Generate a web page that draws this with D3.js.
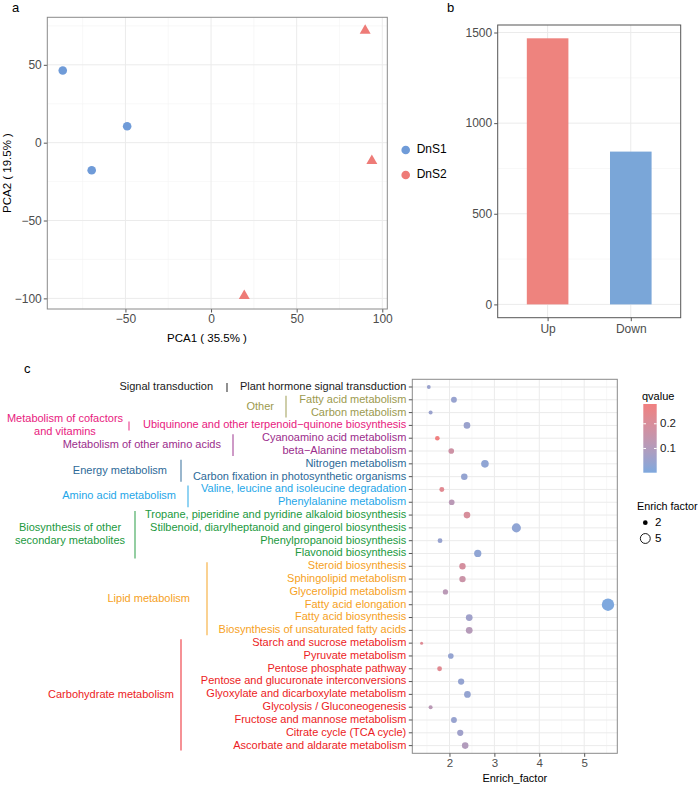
<!DOCTYPE html>
<html>
<head>
<meta charset="utf-8">
<script src="https://cdn.jsdelivr.net/npm/d3@7"></script>
<style>
  body { margin: 0; background: #fff; }
  svg text { font-family: "Liberation Sans", Arial, sans-serif; }
</style>
</head>
<body>
<script>
// ---- panel a: PCA ----
const pcaGroups = ["DnS1", "DnS2"];
const pcaSample = ["DnS1", "DnS1", "DnS1", "DnS2", "DnS2", "DnS2"];
const pca1 = [-86.6, -49.0, -69.7, 90.0, 93.9, 19.4];
const pca2 = [46.4, 10.5, -17.7, 72.0, -11.7, -98.3];
const pcaXTicks = [-50, 0, 50, 100];
const pcaYTicks = [-100, -50, 0, 50];

// ---- panel b: DEG counts ----
const degCategories = ["Up", "Down"];
const degCounts = [1468, 843];
const degTicks = [0, 500, 1000, 1500];

// ---- panel c: KEGG enrichment ----
const pathways = [
  "Plant hormone signal transduction",
  "Fatty acid metabolism",
  "Carbon metabolism",
  "Ubiquinone and other terpenoid\u2212quinone biosynthesis",
  "Cyanoamino acid metabolism",
  "beta\u2212Alanine metabolism",
  "Nitrogen metabolism",
  "Carbon fixation in photosynthetic organisms",
  "Valine, leucine and isoleucine degradation",
  "Phenylalanine metabolism",
  "Tropane, piperidine and pyridine alkaloid biosynthesis",
  "Stilbenoid, diarylheptanoid and gingerol biosynthesis",
  "Phenylpropanoid biosynthesis",
  "Flavonoid biosynthesis",
  "Steroid biosynthesis",
  "Sphingolipid metabolism",
  "Glycerolipid metabolism",
  "Fatty acid elongation",
  "Fatty acid biosynthesis",
  "Biosynthesis of unsaturated fatty acids",
  "Starch and sucrose metabolism",
  "Pyruvate metabolism",
  "Pentose phosphate pathway",
  "Pentose and glucuronate interconversions",
  "Glyoxylate and dicarboxylate metabolism",
  "Glycolysis / Gluconeogenesis",
  "Fructose and mannose metabolism",
  "Citrate cycle (TCA cycle)",
  "Ascorbate and aldarate metabolism"
];
const enrichFactor = [1.54, 2.10, 1.58, 2.39, 1.73, 2.04, 2.79, 2.33, 1.83, 2.05,
                      2.39, 3.49, 1.79, 2.63, 2.29, 2.29, 1.91, 5.53, 2.44, 2.44,
                      1.38, 2.03, 1.78, 2.26, 2.40, 1.58, 2.10, 2.24, 2.35];
const qvalue = [0.05, 0.045, 0.05, 0.05, 0.28, 0.17, 0.03, 0.04, 0.23, 0.12,
                0.20, 0.03, 0.045, 0.03, 0.19, 0.16, 0.12, 0.002, 0.06, 0.11,
                0.22, 0.04, 0.23, 0.04, 0.04, 0.12, 0.045, 0.06, 0.10];
const groupNames = [
  ["Signal transduction"],
  ["Other"],
  ["Metabolism of cofactors", "and vitamins"],
  ["Metabolism of other amino acids"],
  ["Energy metabolism"],
  ["Amino acid metabolism"],
  ["Biosynthesis of other", "secondary metabolites"],
  ["Lipid metabolism"],
  ["Carbohydrate metabolism"]
];
const groupSizes = [1, 2, 1, 2, 2, 2, 4, 6, 9];
const enrichTicks = [2, 3, 4, 5];
const qTicks = [0.1, 0.2];
const sizeLegendValues = [2, 5];

// styles / layout (kept apart from the data)
const groupColors = ["#1a1a1a", "#9c9a4e", "#e8207e", "#9b2d8c", "#2d6a98",
                     "#1ea6e8", "#21993e", "#f6a11d", "#ec1c24"];
const groupBarX = [227, 286, 129, 233, 181, 188, 135, 207, 181];
const groupTextX = [213, 274, 65, 221, 167, 176, 70, 190, 174];
const groupTextAnchor = ["end", "end", "middle", "end", "end", "end", "middle", "end", "end"];
const pcaColors = ["#6f9bd8", "#ee7b77"];
const barColors = ["#ee837e", "#7aa6d8"];

const W = 700, H = 786;
const svg = d3.select("body").append("svg").attr("width", W).attr("height", H);

const majorGrid = "#ebebeb", minorGrid = "#f4f4f4", tickCol = "#4d4d4d";

function expand(ext, f) {
  const d = (ext[1] - ext[0]) * (f || 0.05);
  return [ext[0] - d, ext[1] + d];
}
function minors(scale, major) {
  const step = major[1] - major[0];
  const dom = scale.domain();
  return d3.range(major[0] - step * 3, major[major.length - 1] + step * 3, step)
    .map(v => v + step / 2)
    .filter(v => v > Math.min(...dom) && v < Math.max(...dom));
}
function panelLabel(txt, x, y) {
  svg.append("text").attr("x", x).attr("y", y).attr("font-size", 13)
    .attr("dominant-baseline", "middle").text(txt);
}
function styleAxis(a, size) {
  a.select(".domain").remove();
  a.selectAll("line").attr("stroke", "#555");
  a.selectAll("text").attr("font-size", size).attr("fill", tickCol).attr("font-family", null);
}

// ================= panel a =================
{
  const g = svg.append("g");
  const x = d3.scaleLinear().domain(expand(d3.extent(pca1))).range([47.3, 387.3]);
  const y = d3.scaleLinear().domain(expand(d3.extent(pca2))).range([309, 17.3]);
  const [x0, x1] = x.range(), [y1, y0] = y.range();

  g.selectAll(".mnx").data(minors(x, pcaXTicks)).join("line")
    .attr("x1", d => x(d)).attr("x2", d => x(d)).attr("y1", y0).attr("y2", y1)
    .attr("stroke", minorGrid).attr("stroke-width", 0.6);
  g.selectAll(".mny").data(minors(y, pcaYTicks)).join("line")
    .attr("y1", d => y(d)).attr("y2", d => y(d)).attr("x1", x0).attr("x2", x1)
    .attr("stroke", minorGrid).attr("stroke-width", 0.6);
  g.selectAll(".mjx").data(pcaXTicks).join("line")
    .attr("x1", d => x(d)).attr("x2", d => x(d)).attr("y1", y0).attr("y2", y1)
    .attr("stroke", majorGrid).attr("stroke-width", 1);
  g.selectAll(".mjy").data(pcaYTicks).join("line")
    .attr("y1", d => y(d)).attr("y2", d => y(d)).attr("x1", x0).attr("x2", x1)
    .attr("stroke", majorGrid).attr("stroke-width", 1);

  styleAxis(g.append("g").attr("transform", `translate(0,${y1})`)
    .call(d3.axisBottom(x).tickValues(pcaXTicks).tickSize(3.5).tickPadding(2)), 12);
  styleAxis(g.append("g").attr("transform", `translate(${x0},0)`)
    .call(d3.axisLeft(y).tickValues(pcaYTicks).tickSize(3.5).tickPadding(2)), 12);

  g.append("rect").attr("x", x0).attr("y", y0).attr("width", x1 - x0).attr("height", y1 - y0)
    .attr("fill", "none").attr("stroke", "#8a8a8a").attr("stroke-width", 1);

  const pts = pca1.map((v, i) => ({ x: v, y: pca2[i], s: pcaSample[i] }));
  g.selectAll(".pt").data(pts).join("path")
    .attr("transform", d => `translate(${x(d.x)},${y(d.y)})`)
    .attr("d", d => d3.symbol(d.s === pcaGroups[0] ? d3.symbolCircle : d3.symbolTriangle,
                              d.s === pcaGroups[0] ? 58 : 52)())
    .attr("fill", d => pcaColors[pcaGroups.indexOf(d.s)]);

  g.append("text").attr("x", 207).attr("y", 339).attr("text-anchor", "middle")
    .attr("dominant-baseline", "middle").attr("font-size", 11.5).text("PCA1 ( 35.5% )");
  g.append("text").attr("transform", "translate(8,173) rotate(-90)").attr("text-anchor", "middle")
    .attr("dominant-baseline", "middle").attr("font-size", 11.5).text("PCA2 ( 19.5% )");

  const lg = g.selectAll(".lg").data(pcaGroups).join("g")
    .attr("transform", (d, i) => `translate(405.7,${150 + i * 25})`);
  lg.append("circle").attr("r", 4.3).attr("fill", (d, i) => pcaColors[i]);
  lg.append("text").attr("x", 11).attr("dominant-baseline", "middle")
    .attr("font-size", 12).text(d => d);

  panelLabel("a", 12, 9);
}

// ================= panel b =================
{
  const g = svg.append("g");
  const x = d3.scalePoint().domain(degCategories).range([497.7, 680.7]).padding(0.6);
  const y = d3.scaleLinear().domain(expand([0, d3.max(degCounts)])).range([317.7, 25]);
  const [x0, x1] = x.range(), [y1, y0] = y.range();

  g.selectAll(".mny").data(minors(y, degTicks)).join("line")
    .attr("y1", d => y(d)).attr("y2", d => y(d)).attr("x1", x0).attr("x2", x1)
    .attr("stroke", minorGrid).attr("stroke-width", 0.6);
  g.selectAll(".mjy").data(degTicks).join("line")
    .attr("y1", d => y(d)).attr("y2", d => y(d)).attr("x1", x0).attr("x2", x1)
    .attr("stroke", majorGrid).attr("stroke-width", 1);
  g.selectAll(".mjx").data(degCategories).join("line")
    .attr("x1", d => x(d)).attr("x2", d => x(d)).attr("y1", y0).attr("y2", y1)
    .attr("stroke", majorGrid).attr("stroke-width", 1);

  const bw = x.step() * 0.5;
  g.selectAll(".bar").data(degCategories).join("rect")
    .attr("x", d => x(d) - bw / 2).attr("width", bw)
    .attr("y", (d, i) => y(degCounts[i])).attr("height", (d, i) => y(0) - y(degCounts[i]))
    .attr("fill", (d, i) => barColors[i]);

  styleAxis(g.append("g").attr("transform", `translate(0,${y1})`)
    .call(d3.axisBottom(x).tickSize(3.5).tickPadding(3)), 12);
  styleAxis(g.append("g").attr("transform", `translate(${x0},0)`)
    .call(d3.axisLeft(y).tickValues(degTicks).tickFormat(d3.format("d")).tickSize(3.5).tickPadding(2)), 12);

  g.append("rect").attr("x", x0).attr("y", y0).attr("width", x1 - x0).attr("height", y1 - y0)
    .attr("fill", "none").attr("stroke", "#555").attr("stroke-width", 1);

  panelLabel("b", 447, 9);
}

// ================= panel c =================
{
  const g = svg.append("g");
  const x = d3.scaleLinear().domain(expand(d3.extent(enrichFactor))).range([412.3, 617.3]);
  const y = d3.scalePoint().domain(pathways).range([379.3, 753.3]).padding(0.6);
  const [x0, x1] = x.range(), [y0, y1] = y.range();
  const r = d3.scaleRadial().domain(d3.extent(enrichFactor)).range([1.5, 6.2]);
  const qDom = d3.extent(qvalue);
  const col = d3.scaleLinear().domain(qDom).range(["#7ea8de", "#f08080"])
    .interpolate(d3.interpolateLab);

  g.selectAll(".mnx").data(minors(x, enrichTicks)).join("line")
    .attr("x1", d => x(d)).attr("x2", d => x(d)).attr("y1", y0).attr("y2", y1)
    .attr("stroke", minorGrid).attr("stroke-width", 0.6);
  g.selectAll(".mjx").data(enrichTicks).join("line")
    .attr("x1", d => x(d)).attr("x2", d => x(d)).attr("y1", y0).attr("y2", y1)
    .attr("stroke", majorGrid).attr("stroke-width", 1);
  g.selectAll(".mjy").data(pathways).join("line")
    .attr("y1", d => y(d)).attr("y2", d => y(d)).attr("x1", x0).attr("x2", x1)
    .attr("stroke", majorGrid).attr("stroke-width", 1);

  const dots = pathways.map((p, i) => ({ p, e: enrichFactor[i], q: qvalue[i] }));
  g.selectAll(".dot").data(dots).join("circle")
    .attr("cx", d => x(d.e)).attr("cy", d => y(d.p)).attr("r", d => r(d.e))
    .attr("fill", d => col(d.q));

  g.append("rect").attr("x", x0).attr("y", y0).attr("width", x1 - x0).attr("height", y1 - y0)
    .attr("fill", "none").attr("stroke", "#8a8a8a").attr("stroke-width", 1);

  styleAxis(g.append("g").attr("transform", `translate(0,${y1})`)
    .call(d3.axisBottom(x).tickValues(enrichTicks).tickFormat(d3.format("d")).tickSize(3.5).tickPadding(2)), 11.5);

  g.append("text").attr("x", (x0 + x1) / 2).attr("y", 779).attr("text-anchor", "middle")
    .attr("dominant-baseline", "middle").attr("font-size", 11).text("Enrich_factor");

  // pathway labels, coloured by group
  const groupOf = [];
  groupSizes.forEach((n, gi) => { for (let k = 0; k < n; k++) groupOf.push(gi); });
  g.selectAll(".ytk").data(pathways).join("line")
    .attr("x1", x0 - 3.5).attr("x2", x0).attr("y1", d => y(d)).attr("y2", d => y(d))
    .attr("stroke", "#555");
  g.selectAll(".ylab").data(pathways).join("text")
    .attr("x", x0 - 6).attr("y", d => y(d)).attr("text-anchor", "end")
    .attr("dominant-baseline", "middle").attr("font-size", 11)
    .attr("fill", (d, i) => groupColors[groupOf[i]]).text(d => d);

  // group brackets and names
  let start = 0;
  groupSizes.forEach((n, gi) => {
    const top = y(pathways[start]) - 4, bot = y(pathways[start + n - 1]) + 5;
    const mid = (top + bot) / 2;
    g.append("line").attr("x1", groupBarX[gi]).attr("x2", groupBarX[gi])
      .attr("y1", top).attr("y2", bot)
      .attr("stroke", groupColors[gi]).attr("stroke-width", 1.2).attr("opacity", 0.8);
    const lines = groupNames[gi];
    const t = g.append("text").attr("text-anchor", groupTextAnchor[gi])
      .attr("font-size", 11).attr("fill", groupColors[gi]);
    lines.forEach((ln, li) => {
      t.append("tspan").attr("x", groupTextX[gi])
        .attr("y", mid + (li - (lines.length - 1) / 2) * 12.8)
        .attr("dominant-baseline", "middle").text(ln);
    });
    start += n;
  });

  // qvalue colour bar
  const cb = d3.scaleLinear().domain(qDom).range([472.7, 404]);
  const defs = svg.append("defs");
  const grad = defs.append("linearGradient").attr("id", "qgrad")
    .attr("x1", 0).attr("y1", 1).attr("x2", 0).attr("y2", 0);
  d3.range(0, 1.0001, 0.1).forEach(t => {
    grad.append("stop").attr("offset", t)
      .attr("stop-color", col(qDom[0] + t * (qDom[1] - qDom[0])));
  });
  g.append("text").attr("x", 642).attr("y", 397).attr("dominant-baseline", "middle")
    .attr("font-size", 11).text("qvalue");
  g.append("rect").attr("x", 643.3).attr("y", 404).attr("width", 13.4).attr("height", 68.7)
    .attr("fill", "url(#qgrad)");
  qTicks.forEach(q => {
    g.append("line").attr("x1", 643.3).attr("x2", 646).attr("y1", cb(q)).attr("y2", cb(q))
      .attr("stroke", "#fff");
    g.append("line").attr("x1", 654).attr("x2", 656.7).attr("y1", cb(q)).attr("y2", cb(q))
      .attr("stroke", "#fff");
    g.append("text").attr("x", 660).attr("y", cb(q)).attr("dominant-baseline", "middle")
      .attr("font-size", 11.5).attr("fill", "#222").text(q.toFixed(1));
  });

  // size legend
  g.append("text").attr("x", 637).attr("y", 507.5).attr("dominant-baseline", "middle")
    .attr("font-size", 10.8).text("Enrich factor");
  sizeLegendValues.forEach((v, i) => {
    const cy = 522.7 + i * 15.8;
    g.append("circle").attr("cx", 645.3).attr("cy", cy).attr("r", r(v) * 0.85)
      .attr("fill", i === 0 ? "#000" : "none").attr("stroke", "#000").attr("stroke-width", i === 0 ? 0 : 0.9);
    g.append("text").attr("x", 655).attr("y", cy).attr("dominant-baseline", "middle")
      .attr("font-size", 11.5).text(v);
  });

  panelLabel("c", 24, 370);
}
</script>
</body>
</html>
